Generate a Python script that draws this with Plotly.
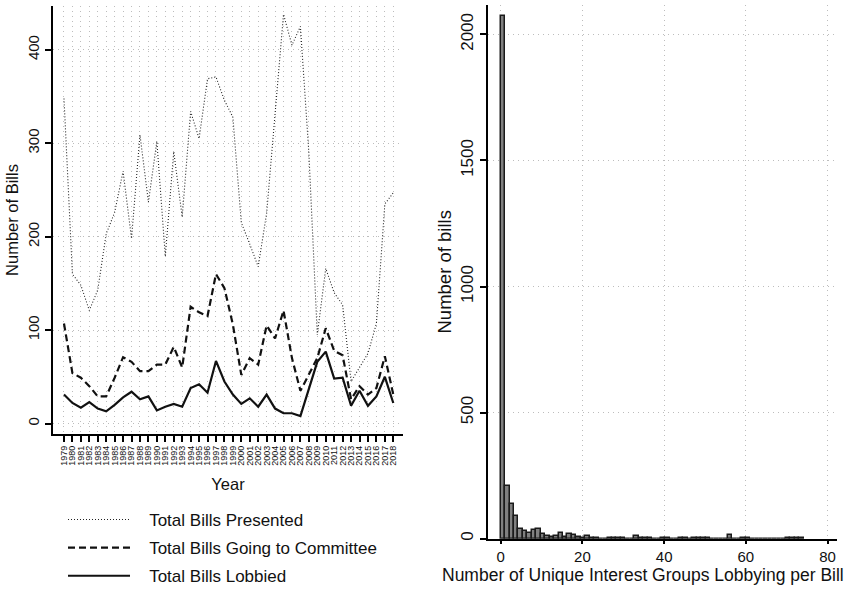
import plotly.graph_objects as go

# ---- Left panel: bills per year -------------------------------------------
years = list(range(1979, 2019))

bills_presented = [348, 160, 148, 121, 143, 203, 226, 270, 198, 309,
                   237, 302, 179, 291, 221, 334, 305, 369, 371, 346,
                   328, 215, 192, 168, 225, 335, 438, 405, 425, 290,
                   95, 166, 140, 127, 45, 60, 75, 107, 235, 247]

bills_committee = [107, 54, 49, 40, 29, 29, 49, 71, 66, 56,
                   56, 63, 63, 82, 60, 125, 119, 115, 160, 145,
                   106, 52, 70, 63, 105, 91, 121, 70, 35, 52,
                   70, 102, 78, 73, 26, 40, 31, 38, 72, 31]

bills_lobbied = [31, 22, 17, 23, 16, 13, 20, 28, 34, 26,
                 29, 14, 18, 21, 18, 38, 42, 33, 67, 45,
                 31, 21, 27, 18, 31, 16, 11, 11, 8, 36,
                 66, 77, 48, 49, 19, 35, 19, 29, 50, 22]

series_names = ["Total Bills Presented",
                "Total Bills Going to Committee",
                "Total Bills Lobbied"]

# ---- Right panel: histogram of interest groups per bill -------------------
bin_width = 1.09
bin_counts = [2075, 209, 137, 92, 40, 30, 24, 33, 37, 17,
              10, 8, 9, 21, 8, 18, 14, 7, 4, 9,
              3, 2, 0, 0, 1, 1, 1, 1, 0, 0,
              10, 4, 2, 2, 0, 0, 1, 1, 0, 0,
              1, 1, 0, 1, 1, 1, 1, 0, 0, 0,
              0, 14, 0, 0, 1, 1, 0, 0, 0, 0,
              0, 0, 0, 0, 1, 1, 1, 1]
bin_centers = [bin_width * (k + 0.5) for k in range(len(bin_counts))]

FONT = "Liberation Sans, Arial, Helvetica, sans-serif"
W, H = 862, 594
GRID = "#bdbdbd"
GRID_DASH = "1px,4px"
PAD = "\u00a0\u00a0\u00a0"  # gap between legend key and its label

fig = go.Figure()

fig.add_trace(go.Scatter(
    x=years, y=bills_presented, mode="lines", name=PAD + series_names[0],
    line=dict(color="#222222", width=1.1, dash="1px,2px"),
    legendgroup="a", xaxis="x", yaxis="y"))
fig.add_trace(go.Scatter(
    x=years, y=bills_committee, mode="lines", name=PAD + series_names[1],
    line=dict(color="#111111", width=2.2, dash="7px,4px"),
    legendgroup="b", xaxis="x", yaxis="y"))
fig.add_trace(go.Scatter(
    x=years, y=bills_lobbied, mode="lines", name=PAD + series_names[2],
    line=dict(color="#111111", width=2.2),
    legendgroup="c", xaxis="x", yaxis="y"))

fig.add_trace(go.Bar(
    x=bin_centers, y=bin_counts, width=bin_width,
    marker=dict(color="#808080", line=dict(color="#1a1a1a", width=1.5)),
    showlegend=False, xaxis="x2", yaxis="y2"))

axis_common = dict(
    showline=True, linecolor="black", linewidth=2,
    ticks="outside", ticklen=6, tickwidth=1.5, tickcolor="black",
    showgrid=True, gridcolor=GRID, griddash=GRID_DASH, gridwidth=1,
    zeroline=False,
)

fig.update_layout(
    width=W, height=H,
    margin=dict(l=0, r=0, t=0, b=0),
    paper_bgcolor="white", plot_bgcolor="white",
    font=dict(family=FONT, size=15, color="#111"),
    bargap=0,
    xaxis=dict(
        axis_common,
        domain=[53 / W, 403 / W], range=[1977.7, 2019.15],
        tickvals=years, ticktext=[str(y) for y in years],
        tickangle=-90, tickfont=dict(family=FONT, size=9, color="#111"),
        title=dict(text="Year", font=dict(family=FONT, size=16.5), standoff=14),
        anchor="y",
    ),
    yaxis=dict(
        axis_common,
        domain=[1 - 440 / H, 1 - 6 / H], range=[-11.3, 447],
        tickvals=[0, 100, 200, 300, 400], tickangle=-90,
        tickfont=dict(family=FONT, size=15, color="#111"),
        title=dict(text="Number of Bills", font=dict(family=FONT, size=16.5), standoff=2),
        anchor="x",
    ),
    xaxis2=dict(
        axis_common,
        domain=[488 / W, 837 / W], range=[-3.1, 82.3],
        tickvals=[0, 20, 40, 60, 80], ticklen=3,
        tickfont=dict(family=FONT, size=15, color="#111"),
        anchor="y2",
    ),
    yaxis2=dict(
        axis_common,
        domain=[1 - 546 / H, 1 - 5 / H], range=[0, 2117],
        tickvals=[0, 500, 1000, 1500, 2000], tickangle=-90,
        tickfont=dict(family=FONT, size=17, color="#111"),
        title=dict(text="Number of bills", font=dict(family=FONT, size=18.5), standoff=2),
        anchor="x2",
    ),
    legend=dict(
        x=63 / W, y=1 - 509 / H, xanchor="left", yanchor="top",
        traceorder="grouped", tracegroupgap=3, itemwidth=62,
        font=dict(family=FONT, size=17, color="#111"),
        bgcolor="rgba(0,0,0,0)",
    ),
    annotations=[dict(
        text="Number of Unique Interest Groups Lobbying per Bill",
        xref="paper", yref="paper", x=643 / W, y=0,
        xanchor="center", yanchor="bottom", showarrow=False, borderpad=0,
        font=dict(family=FONT, size=17.5, color="#111"),
    )],
)

fig.write_html("out.html")
